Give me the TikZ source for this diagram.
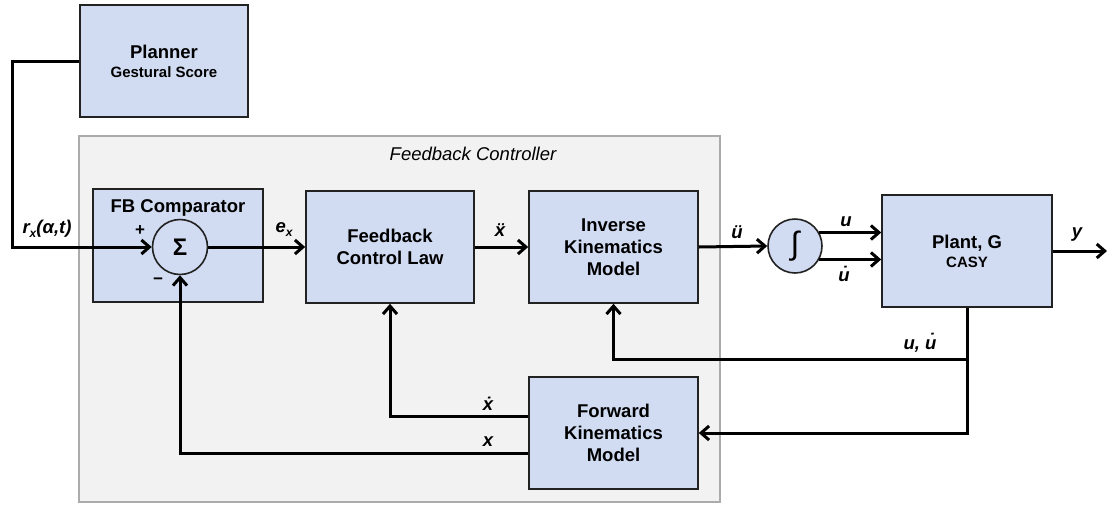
\documentclass[tikz,border=0pt]{standalone}
\usepackage{fontspec}
\setmainfont{Liberation Sans}
\usetikzlibrary{arrows.meta}
\definecolor{boxblue}{HTML}{D1DCF2}
\definecolor{panelgray}{HTML}{F2F2F2}
\definecolor{panelline}{HTML}{ABABAB}
\definecolor{edgedark}{HTML}{222222}
\begin{document}
\begin{tikzpicture}[x=1pt,y=-1pt,
  blk/.style={draw=edgedark, line width=1.6pt, fill=boxblue, minimum width=168pt, minimum height=112pt, inner sep=0pt, align=center, font=\bfseries\fontsize{18.5}{22}\selectfont},
  sumc/.style={circle, draw=edgedark, line width=1.6pt, fill=boxblue, minimum size=55pt, inner sep=0pt},
  panel/.style={draw=panelline, line width=1.4pt, fill=panelgray, minimum width=641pt, minimum height=366pt, inner sep=0pt},
  wire/.style={line width=3pt, line join=miter},
  arr/.style={wire, -{Straight Barb[length=8pt,width=14pt]}},
  lab/.style={font=\bfseries\itshape\fontsize{18.5}{22}\selectfont, inner sep=0pt},
  sgn/.style={font=\bfseries\fontsize{17}{17}\selectfont, inner sep=0pt},
  ttl/.style={font=\itshape\fontsize{18.5}{22}\selectfont, inner sep=0pt}
]
\useasboundingbox (0,0) rectangle (1108,504);
% panel
\node[panel] (fbpanel) at (399.5,319) {};
\node[ttl] (fbtitle) at (473,154) {Feedback Controller};
% blocks
\node[blk] (planner) at (164,61) {Planner\\[-3pt]{\fontsize{15}{18}\selectfont Gestural Score}};
\node[blk, minimum width=170pt, minimum height=113pt] (fbc) at (178,245.5) {};
\node[font=\bfseries\fontsize{18.5}{22}\selectfont, inner sep=0pt] (fbctext) at (178,208) {FB Comparator};
\node[sumc] (sigma) at (180,247) {\bfseries\fontsize{24}{24}\selectfont Σ};
\node[blk] (fcl) at (390,247) {Feedback\\Control Law};
\node[blk, minimum width=169pt] (ikm) at (613.5,247) {Inverse\\Kinematics\\Model};
\node[sumc, minimum size=54pt] (integ) at (795,246) {\fontsize{32}{32}\selectfont ∫};
\node[blk, minimum width=170pt] (plant) at (967,251) {Plant, G\\[-3pt]{\fontsize{15}{18}\selectfont CASY}};
\node[blk, minimum width=169pt] (fkm) at (613.5,433) {Forward\\Kinematics\\Model};
% coordinates
\coordinate (c1) at (12,61);
\coordinate (c2) at (12,247);
\coordinate (yend) at (1107,251);
\coordinate (fbxd) at (390,416);
\coordinate (fbx) at (180,453);
\coordinate (tap) at (967,359);
% connectors
\draw[arr] (planner.west) -- (c1) -- (c2) -- (sigma.west);
\draw[arr] (sigma.east) -- (fcl.west);
\draw[arr] (fcl.east) -- (ikm.west);
\draw[arr] (ikm.east) -- (integ.west);
\draw[arr] (integ.29) -- (plant.west |- integ.29);
\draw[arr] (integ.-29) -- (plant.west |- integ.-29);
\draw[arr] (plant.east) -- (yend);
\draw[arr] (plant.south) -- (plant.south |- fkm.east) -- (fkm.east);
\draw[arr] (tap) -- (ikm.south |- tap) -- (ikm.south);
\draw[arr] (fkm.west |- fbxd) -- (fbxd) -- (fcl.south);
\draw[arr] (fkm.west |- fbx) -- (fbx) -- (sigma.south);
% labels
\node[lab] (lr) at (47,229) {r\raisebox{-4pt}{\fontsize{12}{12}\selectfont x}(α,t)};
\node[sgn] (lplus) at (140,231) {+};
\node[sgn] (lminus) at (158,281) {−};
\node[lab] (lex) at (284,230) {e\raisebox{-4pt}{\fontsize{12}{12}\selectfont x}};
\node[lab] (lxdd) at (500,230) {ẍ};
\node[lab] (ludd) at (737,232) {ü};
\node[lab] (lu) at (846,222) {u};
\node[lab] (lud) at (844,274) {u̇};
\node[lab] (ly) at (1077,235) {y};
\node[lab] (luud) at (920,343) {u, u̇};
\node[lab] (lxd) at (488,404) {ẋ};
\node[lab] (lx) at (488,442) {x};
\end{tikzpicture}
\end{document}
